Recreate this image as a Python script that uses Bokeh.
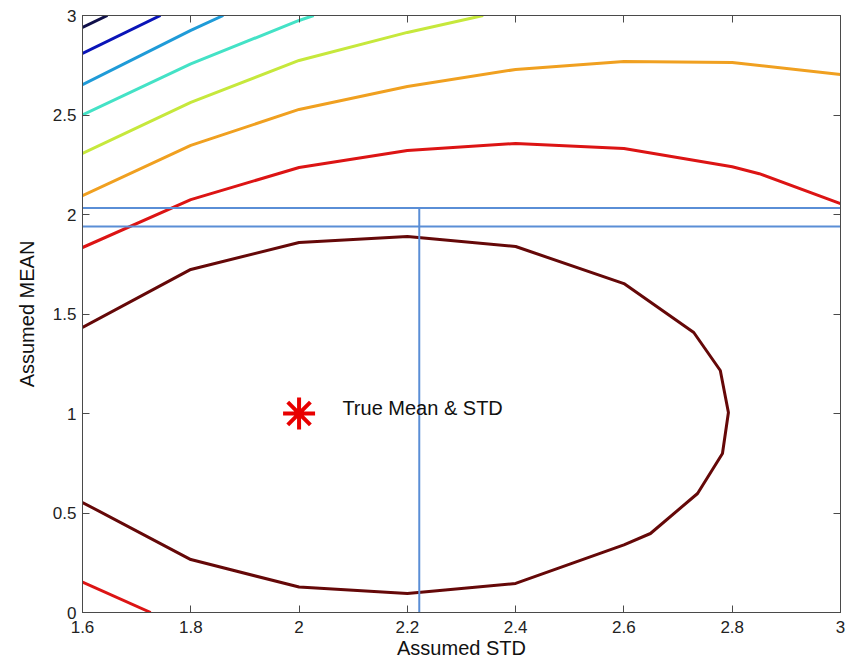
from bokeh.plotting import figure
from bokeh.models import LinearAxis, FixedTicker, Range1d
from bokeh.core.properties import value
from bokeh.embed import file_html
from bokeh.resources import INLINE

# ---- data ----
x_ticks = [1.6, 1.8, 2.0, 2.2, 2.4, 2.6, 2.8, 3.0]
x_tick_labels = ["1.6", "1.8", "2", "2.2", "2.4", "2.6", "2.8", "3"]
y_ticks = [0, 0.5, 1, 1.5, 2, 2.5, 3]
y_tick_labels = ["0", "0.5", "1", "1.5", "2", "2.5", "3"]

navy_x = [1.6, 1.646]
navy_y = [2.94, 3.0]
blue_x = [1.6, 1.744]
blue_y = [2.81, 3.0]
lblue_x = [1.6, 1.8, 1.86]
lblue_y = [2.653, 2.925, 3.0]
cyan_x = [1.6, 1.8, 2.0, 2.027]
cyan_y = [2.5, 2.757, 2.975, 3.0]
yellow_x = [1.6, 1.8, 2.0, 2.2, 2.34]
yellow_y = [2.307, 2.563, 2.774, 2.915, 3.0]
orange_x = [1.6, 1.8, 2.0, 2.2, 2.4, 2.6, 2.8, 3.0]
orange_y = [2.095, 2.347, 2.528, 2.643, 2.729, 2.769, 2.764, 2.704]
red_x = [1.6, 1.8, 2.0, 2.2, 2.4, 2.6, 2.8, 2.85, 3.0]
red_y = [1.834, 2.075, 2.236, 2.322, 2.357, 2.332, 2.24, 2.205, 2.055]
ell_x = [1.6, 1.8, 2.0, 2.2, 2.4, 2.6, 2.729, 2.778, 2.793, 2.782, 2.736, 2.649, 2.6, 2.4, 2.2, 2.0, 1.8, 1.6]
ell_y = [1.432, 1.724, 1.859, 1.89, 1.839, 1.653, 1.407, 1.216, 1.005, 0.799, 0.598, 0.397, 0.34, 0.146, 0.095, 0.128, 0.266, 0.553]
bred_x = [1.6, 1.726]
bred_y = [0.153, 0.0]

true_std = 2.0
true_mean = 1.0
label_text = "True Mean & STD"
label_x = 2.08
label_y = 1.03

hline_y = [2.033, 1.940]
hline_x = [1.6, 3.0]
vline_x = 2.222
vline_y = [0.0, 2.033]

contours = [
    (navy_x, navy_y, "#10104a"),
    (blue_x, blue_y, "#0a14b8"),
    (lblue_x, lblue_y, "#1f9bd8"),
    (cyan_x, cyan_y, "#44e2c6"),
    (yellow_x, yellow_y, "#c6e83c"),
    (orange_x, orange_y, "#f0a020"),
    (red_x, red_y, "#dc1414"),
    (ell_x, ell_y, "#650808"),
    (bred_x, bred_y, "#dc1414"),
]

FONT = "Liberation Sans"
AXIS_COLOR = "#4a4a4a"

p = figure(width=847, height=661, output_backend="svg", toolbar_location=None,
           x_range=Range1d(1.6, 3.0), y_range=Range1d(0, 3.0),
           min_border_left=82, min_border_right=7, min_border_top=15, min_border_bottom=49)
p.background_fill_color = "white"
p.border_fill_color = "white"
p.outline_line_color = AXIS_COLOR
p.grid.visible = False

for xs, ys, col in contours:
    p.line(xs, ys, line_color=col, line_width=3)

# reference lines
blue = "#5a8ed6"
for hy in hline_y:
    p.line(hline_x, [hy, hy], line_color=blue, line_width=2)
p.line([vline_x, vline_x], vline_y, line_color=blue, line_width=2)

# true point
p.scatter([true_std], [true_mean], marker="asterisk", size=32, line_color="#e80000", line_width=4)
p.text([label_x], [label_y], text=[label_text], text_font=value(FONT), text_font_size="20px",
       text_baseline="middle", text_align="left", text_color="#111111")

def style_axis(ax, ticks, labels, show_labels=True):
    ax.ticker = FixedTicker(ticks=ticks)
    ax.minor_tick_line_color = None
    ax.major_tick_in = 7
    ax.major_tick_out = 0
    ax.axis_line_color = AXIS_COLOR
    ax.major_tick_line_color = AXIS_COLOR
    ax.major_label_text_font = FONT
    if show_labels:
        ax.major_label_overrides = {t: l for t, l in zip(ticks, labels)}
        ax.major_label_text_color = "#222222"
        ax.major_label_text_font_size = "17px"
    else:
        ax.major_label_text_color = None
        ax.major_label_text_font_size = "1px"
        ax.major_label_standoff = 0

xa = p.xaxis[0]
ya = p.yaxis[0]
style_axis(xa, x_ticks, x_tick_labels)
style_axis(ya, y_ticks, y_tick_labels)
xa.major_label_standoff = 8
ya.major_label_standoff = 6
xa.axis_label = "Assumed STD"
ya.axis_label = "Assumed MEAN"
for ax in (xa, ya):
    ax.axis_label_text_font = FONT
    ax.axis_label_text_font_size = "20px"
    ax.axis_label_text_font_style = "normal"
    ax.axis_label_text_color = "#111111"
xa.axis_label_standoff = 1
ya.axis_label_standoff = 12

top = LinearAxis()
style_axis(top, x_ticks, x_tick_labels, show_labels=False)
p.add_layout(top, "above")
right = LinearAxis()
style_axis(right, y_ticks, y_tick_labels, show_labels=False)
p.add_layout(right, "right")

open("out.html", "w").write(file_html(p, INLINE))
